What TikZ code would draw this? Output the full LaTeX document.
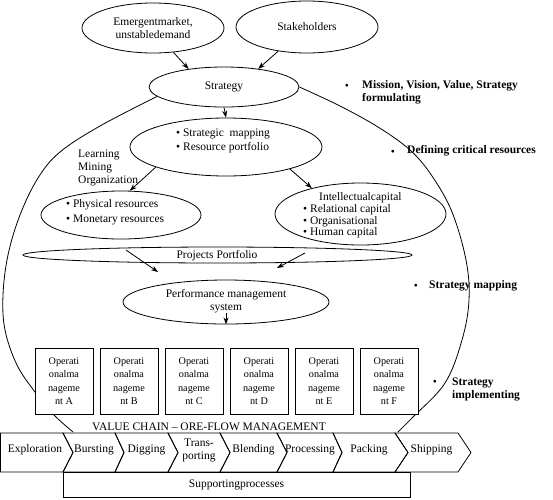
\documentclass[tikz,border=0pt]{standalone}
\usepackage{fontspec}
\setmainfont{Liberation Serif}
\usetikzlibrary{positioning, arrows.meta, shapes.geometric}

\begin{document}
\begin{tikzpicture}[
    x=1pt, y=-1pt,
    every node/.style={font=\fontsize{11.5}{13}\selectfont, inner sep=0pt},
    oval/.style={ellipse, draw, line width=0.8pt},
    txt/.style={align=left},
    goal/.style={align=left, font=\fontsize{11.5}{13}\selectfont\bfseries},
    opbox/.style={rectangle, draw, fill=white, line width=0.8pt, minimum width=58pt, minimum height=66pt, align=center, font=\fontsize{10.2}{13.5}\selectfont},
    arr/.style={-{Stealth[length=7pt, width=5pt]}, line width=0.8pt},
    frame/.style={line width=0.8pt},
    chev/.style={draw, line width=0.8pt}
]
\useasboundingbox (0,0) rectangle (553,499);

% Ellipses
\node[oval, minimum width=142pt, minimum height=50pt, align=center] (emerg) at (153,28) {Emergentmarket,\\unstabledemand};
\node[oval, minimum width=142pt, minimum height=52pt] (stake) at (307,27) {Stakeholders};
\node[oval, minimum width=150pt, minimum height=40pt] (strat) at (224,87) {Strategy};
\node[oval, minimum width=192pt, minimum height=58pt] (smap) at (226,147) {};
\node[txt, anchor=west] (smaptxt) at (176,141) {\textbullet\ Strategic\ \ mapping\\[1pt]\textbullet\ Resource portfolio};
\node[oval, minimum width=160pt, minimum height=48pt] (phys) at (121,215) {};
\node[txt, anchor=west] (phystxt) at (66,212.5) {\textbullet\ Physical resources\\[2pt]\textbullet\ Monetary resources};
\node[oval, minimum width=171pt, minimum height=62pt] (intel) at (360.5,214) {};
\node[txt, anchor=west, font=\fontsize{11.5}{11.7}\selectfont] (inteltxt) at (303,215.5) {\hspace*{16pt}Intellectualcapital\\\textbullet\ Relational capital\\\textbullet\ Organisational\\\textbullet\ Human capital};
\node[oval, minimum width=389pt, minimum height=16pt] (proj) at (217.5,255) {};
\node (projtxt) at (217,256) {Projects Portfolio};
\node[oval, minimum width=206pt, minimum height=44pt] (perf) at (226,302) {};
\node[align=center] (perftxt) at (226,301) {Performance management\\system};

% Labels
\node[txt, anchor=west] (learn) at (78,168) {Learning\\Mining\\Organization};
\node (b1) at (347,87) {\textbullet};
\node[goal, anchor=west] (g1) at (362,92.6) {Mission, Vision, Value, Strategy\\formulating};
\node (b2) at (393,153) {\textbullet};
\node[goal, anchor=west] (g2) at (407,151) {Defining critical resources};
\node (b3) at (416,287) {\textbullet};
\node[goal, anchor=west] (g3) at (429,286) {Strategy mapping};
\node (b4) at (435,383) {\textbullet};
\node[goal, anchor=west] (g4) at (452,389.5) {Strategy\\implementing};

% Arrows
\draw[arr] (emerg.-50) -- (strat.153);
\draw[arr] (stake.-140) -- (strat.28);
\draw[arr] (strat.south) -- (smap.north);
\draw[arr] (smap.-164) -- (phys.70);
\draw[arr] (smap.-19) -- (intel.152);
\coordinate (pp1) at (126,250);
\coordinate (pp1e) at (158,272);
\coordinate (pp2) at (305,253);
\coordinate (pp2e) at (277,268);
\draw[arr] (pp1) -- (pp1e);
\draw[arr] (pp2) -- (pp2e);
\draw[arr] (perftxt.south) -- (perf.south);

% Big arc
\draw[frame] plot[smooth, tension=0.6] coordinates {(strat.-172) (100,126) (60,152) (38,178) (20,215) (8,255) (3,295) (5,330) (17,365) (35,392) (53,414) (73,432)};
\draw[frame] plot[smooth, tension=0.6] coordinates {(strat.east) (340,106) (378,127) (410,150) (432,176) (452,212) (466,260) (469,300) (462,340) (445,383) (413,417) (398,432)};

% Operational boxes
\foreach \l [count=\i from 0] in {A,B,C,D,E,F}
    \node[opbox] (op\l) at ({64+65*\i},381) {Operati\\onalma\\nageme\\nt \l};

% Value chain
\node (vchain) at (209,427) {VALUE CHAIN -- ORE-FLOW MANAGEMENT};
\draw[chev] (0.5,433) -- (63,433) -- (73,452.5) -- (63,472) -- (0.5,472) -- cycle;
\node (explo) at (35,450) {Exploration};
\foreach \a/\b/\p/\d/\n/\t in {63/115/10/9/burst/Bursting, 115/168/9/10/dig/Digging, 168/220/10/10/trans/{Trans-\\porting}, 220/277/10/10/blend/Blending, 277/333/10/9/proc/Processing, 333/395/9/13/pack/Packing, 395/458/13/13/ship/Shipping}
{
    \draw[chev] (\a,433) -- (\b,433) -- (\b+\d,452.5) -- (\b,472) -- (\a,472) -- (\a+\p,452.5) -- cycle;
    \node[align=center] (\n) at ({(\a+\b)/2+5},450) {\t};
}
\node[draw, line width=0.8pt, minimum width=347pt, minimum height=25pt] (supp) at (236.5,484.5) {Supportingprocesses};

\end{tikzpicture}
\end{document}
